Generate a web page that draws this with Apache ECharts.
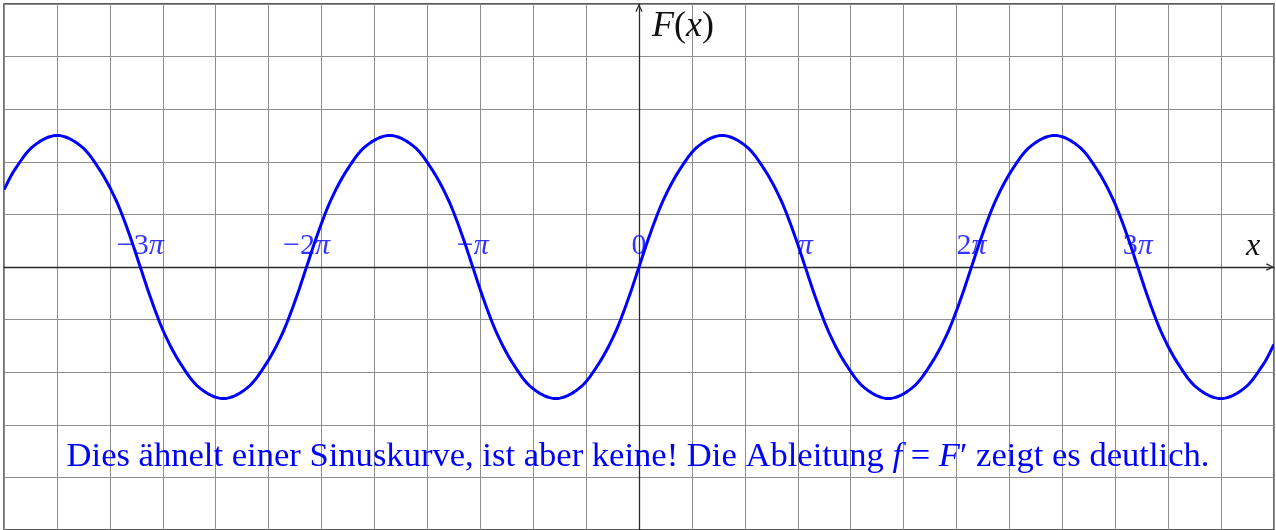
<!DOCTYPE html>
<html>
<head>
<meta charset="utf-8">
<script src="https://cdn.jsdelivr.net/npm/echarts@6/dist/echarts.min.js"></script>
<style>
  html, body { margin: 0; padding: 0; background: #fff; }
  #chart { width: 1276px; height: 530px; }
</style>
</head>
<body>
<div id="chart"></div>
<script>
// Sample points of F(x): zero crossings, extrema and points on each flank
const xValues = [
  -12.000, -11.816, -11.466, -10.995, -10.524, -10.174, -9.874, -9.624,
  -9.425, -9.225, -8.975, -8.675, -8.325, -7.854, -7.383, -7.033, -6.733, -6.483,
  -6.283, -6.083, -5.833, -5.533, -5.183, -4.712, -4.241, -3.891, -3.591, -3.341,
  -3.142, -2.942, -2.692, -2.392, -2.042, -1.571, -1.100, -0.750, -0.450, -0.200,
  0.000, 0.200, 0.450, 0.750, 1.100, 1.571, 2.042, 2.392, 2.692, 2.942,
  3.142, 3.342, 3.592, 3.892, 4.242, 4.712, 5.183, 5.533, 5.833, 6.083,
  6.283, 6.483, 6.733, 7.033, 7.383, 7.854, 8.325, 8.675, 8.975, 9.225,
  9.425, 9.625, 9.875, 10.175, 10.525, 10.996, 11.467, 11.817, 12.000
];
const FValues = [
  1.47, 1.82, 2.28, 2.50, 2.28, 1.82, 1.25, 0.60,
  0, -0.60, -1.25, -1.82, -2.28, -2.50, -2.28, -1.82, -1.25, -0.60,
  0, 0.60, 1.25, 1.82, 2.28, 2.50, 2.28, 1.82, 1.25, 0.60,
  0, -0.60, -1.25, -1.82, -2.28, -2.50, -2.28, -1.82, -1.25, -0.60,
  0, 0.60, 1.25, 1.82, 2.28, 2.50, 2.28, 1.82, 1.25, 0.60,
  0, -0.60, -1.25, -1.82, -2.28, -2.50, -2.28, -1.82, -1.25, -0.60,
  0, 0.60, 1.25, 1.82, 2.28, 2.50, 2.28, 1.82, 1.25, 0.60,
  0, -0.60, -1.25, -1.82, -2.28, -2.50, -2.28, -1.82, -1.47
];

// Labelled ticks on the x axis: multiples of pi
const piMultiples = [-3, -2, -1, 0, 1, 2, 3];
const piTickLabels = ['{n|−3}{p|π}', '{n|−2}{p|π}', '{n|−}{p|π}', '{n|0}', '{p|π}', '{n|2}{p|π}', '{n|3}{p|π}'];

const serif = '"Liberation Serif", "DejaVu Serif", serif';
const BLUE = '#0000ff';
// thin open arrowhead, pointing up (rotated by the axis)
const chevron = 'path://M0,10 L5,0 L10,10 L8.4,11 L5,3.6 L1.6,11 Z';

const chart = echarts.init(document.getElementById('chart'), null, { renderer: 'canvas' });

const curve = xValues.map((x, i) => [x, FValues[i]]);
const tickPoints = piMultiples.map((k, i) => ({ value: [k * Math.PI, 0], label: { formatter: piTickLabels[i] } }));

// Cubic Hermite interpolation between the samples (tangents from neighbouring points),
// evaluated in data space and mapped to pixels through the grid's coordinate system.
function tangents(xs, ys) {
  const n = xs.length, m = new Array(n);
  for (let i = 0; i < n; i++) {
    const a = Math.max(0, i - 1), b = Math.min(n - 1, i + 1);
    m[i] = (ys[b] - ys[a]) / (xs[b] - xs[a]);
  }
  return m;
}
const slopes = tangents(xValues, FValues);

function renderCurve(params, api) {
  if (params.dataIndex !== 0) return null;
  const pts = [];
  const steps = 12;
  for (let i = 0; i < xValues.length - 1; i++) {
    const x0 = xValues[i], x1 = xValues[i + 1], y0 = FValues[i], y1 = FValues[i + 1];
    const h = x1 - x0, m0 = slopes[i], m1 = slopes[i + 1];
    for (let s = 0; s < steps; s++) {
      const t = s / steps, t2 = t * t, t3 = t2 * t;
      const y = (2 * t3 - 3 * t2 + 1) * y0 + (t3 - 2 * t2 + t) * h * m0 +
                (-2 * t3 + 3 * t2) * y1 + (t3 - t2) * h * m1;
      pts.push(api.coord([x0 + t * h, y]));
    }
  }
  pts.push(api.coord([xValues[xValues.length - 1], FValues[FValues.length - 1]]));
  return {
    type: 'polyline',
    shape: { points: pts },
    style: { stroke: BLUE, lineWidth: 3, fill: null, lineJoin: 'round' },
    silent: true
  };
}

const axisCommon = {
  type: 'value',
  interval: 1,
  axisTick: { show: false },
  axisLabel: { show: false },
  splitLine: { show: true, lineStyle: { color: '#8e8e8e', width: 1 } },
  axisLine: {
    onZero: true,
    symbol: ['none', chevron],
    symbolSize: [12, 8],
    symbolOffset: [0, -4],
    lineStyle: { color: '#2a2a2a', width: 1.3 }
  }
};

chart.setOption({
  animation: false,
  backgroundColor: '#fff',
  grid: {
    left: 4, top: 4, width: 1270, height: 528,
    show: true, borderColor: '#222', borderWidth: 1.3, backgroundColor: '#fff'
  },
  xAxis: Object.assign({}, axisCommon, { min: -12, max: 12 }),
  yAxis: Object.assign({}, axisCommon, { min: -5, max: 5 }),
  series: [
    {
      type: 'custom',
      data: curve,
      renderItem: renderCurve,
      clip: true,
      z: 3
    },
    {
      type: 'scatter',
      data: tickPoints,
      symbolSize: 0,
      z: 4,
      label: {
        show: true,
        position: 'top',
        distance: 6,
        rich: {
          n: { fontFamily: serif, fontSize: 30, color: BLUE },
          p: { fontFamily: serif, fontSize: 30, fontStyle: 'italic', color: BLUE }
        }
      }
    }
  ],
  graphic: [
    {
      type: 'text', left: 652, top: 9, z: 10,
      style: {
        text: '{i|F}{t|(}{i|x}{t|)}',
        rich: {
          i: { fontFamily: serif, fontSize: 36, fontStyle: 'italic', fill: '#111' },
          t: { fontFamily: serif, fontSize: 36, fill: '#111' }
        }
      }
    },
    {
      type: 'text', left: 1246, top: 231, z: 10,
      style: { text: 'x', font: 'italic 32px ' + serif, fill: '#111' }
    },
    {
      type: 'text', left: 'center', top: 439, z: 10,
      style: {
        text: '{t|Dies ähnelt einer Sinuskurve, ist aber keine! Die Ableitung }{i|f}{t| = }{i|F}{t|′ zeigt es deutlich.}',
        rich: {
          t: { fontFamily: serif, fontSize: 34.6, fill: BLUE },
          i: { fontFamily: serif, fontSize: 34.6, fontStyle: 'italic', fill: BLUE }
        }
      }
    }
  ]
});
</script>
</body>
</html>
